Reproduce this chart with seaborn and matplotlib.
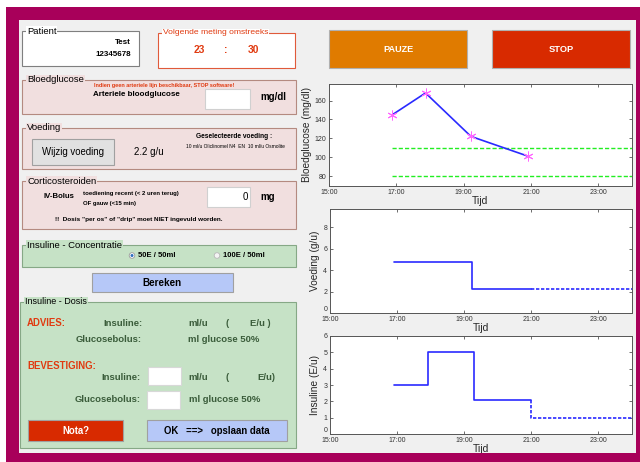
import matplotlib

matplotlib.use("Agg")

import matplotlib.pyplot as plt
import seaborn as sns
from matplotlib.patches import Circle, Rectangle

# measured values (times as hh:mm)
glucose_time = ["16:53", "17:52", "19:13", "20:55"]
glucose_value = [145, 168, 122, 101]
target_time = ["16:53", "24:00"]
target_low = 80
target_high = 110

feed_time = ["16:54", "19:14", "21:00"]
feed_rate = [4.75, 2.2, 2.2]
feed_plan_time = ["21:00", "24:00"]
feed_plan_rate = [2.2, 2.2]

insulin_time = ["16:54", "17:56", "19:17", "20:59"]
insulin_rate = [3.0, 5.0, 2.1, 2.1]
insulin_plan_time = ["20:59", "24:00"]
insulin_plan_rate = [2.1, 0.95]

hour_ticks = [15, 17, 19, 21, 23]
hour_labels = ["15:00", "17:00", "19:00", "21:00", "23:00"]


def hours(times):
    return [int(t[:2]) + int(t[3:]) / 60 for t in times]


sns.set_style("white")
plt.rcParams["font.family"] = ["Liberation Sans", "DejaVu Sans"]

MAGENTA = "#a8005a"
PANEL = "#f0f0f0"
PINK = "#f1dfdf"
PINK_EC = "#b48a80"
GREEN = "#c6e2c6"
GREEN_EC = "#86a886"
BLUE_BTN = "#b6c8f8"
RED_BTN = "#d82a00"
ORANGE_BTN = "#e07b00"
RED_TXT = "#e03a10"
GREEN_TXT = "#3a5c3a"
LINE = "#2a2aff"

fig = plt.figure(figsize=(6.4, 4.62), dpi=100)
fig.patch.set_facecolor("white")

ax_bg = fig.add_axes([0, 0, 1, 1], zorder=0)
ax_bg.set_xlim(0, 640)
ax_bg.set_ylim(462, 0)
ax_bg.axis("off")


def box(x0, y0, x1, y1, fc, ec="none", lw=0.8):
    ax_bg.add_patch(Rectangle((x0, y0), x1 - x0, y1 - y0, fc=fc, ec=ec, lw=lw))


def label(x, y, s, size=6, color="black", weight="bold", ha="left", bg=None):
    kw = {}
    if bg is not None:
        kw["bbox"] = dict(fc=bg, ec="none", pad=0.6)
    ax_bg.text(x, y, s, fontsize=size, color=color, fontweight=weight,
               ha=ha, va="center", **kw)


def panel(x0, y0, x1, y1, title, fc, ec, size=6.8):
    box(x0, y0, x1, y1, fc, ec)
    label(x0 + 5, y0, title, size=size, weight="normal", bg=fc)


# window frame
box(6, 7, 640, 462, MAGENTA)
box(19, 20, 636, 453, PANEL)

# left hand panels
panel(22, 31, 139, 66, "Patient", "white", "#7f7f7f")
label(131, 42, "Test", size=5.8, ha="right")
label(131, 55, "12345678", size=5.8, ha="right")

box(158, 33, 295, 68, "white", "#e05a3a")
label(163, 33, "Volgende meting omstreeks", size=6.1, color=RED_TXT,
      weight="normal", bg="white")
label(199, 50, "23", size=7.4, color=RED_TXT, ha="center")
label(226, 50, ":", size=7.4, color=RED_TXT, ha="center")
label(253, 50, "30", size=7.4, color=RED_TXT, ha="center")

panel(22, 80, 296, 114, "Bloedglucose", PINK, PINK_EC)
label(94, 85.5, "Indien geen arteriele lijn beschikbaar, STOP software!",
      size=4.0, color=RED_TXT)
label(93, 94, "Arteriele bloodglucose", size=5.8)
box(205, 89, 250, 109, "white", "#d0d0d0")
label(260, 97, "mg/dl", size=7)

panel(22, 128, 296, 169, "Voeding", PINK, PINK_EC)
box(32, 139, 114, 165, "#e1e1e1", "#a0a0a0")
label(73, 152, "Wijzig voeding", size=6.9, weight="normal", ha="center")
label(149, 152, "2.2 g/u", size=7, weight="normal", ha="center")
label(234, 136, "Geselecteerde voeding :", size=4.8, ha="center")
label(235, 147, "10 ml/u Oliclinomel N4  EN  10 ml/u Osmolite", size=3.5,
      weight="normal", ha="center")

panel(22, 181, 296, 229, "Corticosteroiden", PINK, PINK_EC)
label(44, 196, "IV-Bolus", size=5.6)
label(83, 194, "toediening recent (< 2 uren terug)", size=4.3)
label(83, 203, "OF gauw (<15 min)", size=4.3)
box(207, 187, 250, 207, "white", "#d0d0d0")
label(248, 197, "0", size=7, weight="normal", ha="right")
label(260, 197, "mg", size=7)
label(55, 219, '!!  Dosis "per os" of "drip" moet NIET ingevuld worden.',
      size=4.6)

panel(22, 245, 296, 267, "Insuline - Concentratie", GREEN, GREEN_EC)
ax_bg.add_patch(Circle((132, 255.5), 2.8, fc="white", ec="#9a9a9a", lw=0.6))
ax_bg.add_patch(Circle((132, 255.5), 1.5, fc="#3070c0", ec="none"))
label(138, 255.5, "50E / 50ml", size=5.5)
ax_bg.add_patch(Circle((217, 255.5), 2.8, fc="#f4f4f4", ec="#b8b8b8", lw=0.6))
label(223, 255.5, "100E / 50ml", size=5.5)

box(92, 273, 233, 292, BLUE_BTN, "#a0a0a0")
label(162, 282.5, "Bereken", size=7.1, ha="center")

panel(20, 302, 296, 448, "Insuline - Dosis", GREEN, GREEN_EC, size=6.5)
label(27, 323, "ADVIES:", size=6.9, color=RED_TXT)
label(142, 324, "Insuline:", size=6.8, color=GREEN_TXT, ha="right")
label(188, 324, "ml/u", size=6.8, color=GREEN_TXT)
label(226, 324, "(", size=6.8, color=GREEN_TXT)
label(250, 324, "E/u )", size=6.8, color=GREEN_TXT)
label(142, 339, "Glucosebolus:", size=6.8, color=GREEN_TXT, ha="right")
label(188, 339, "ml glucose 50%", size=6.8, color=GREEN_TXT)

label(27, 366, "BEVESTIGING:", size=6.9, color=RED_TXT)
label(141, 377, "Insuline:", size=6.8, color=GREEN_TXT, ha="right")
box(148, 367, 181, 385, "white", "#d8d8d8")
label(188, 377, "ml/u", size=6.8, color=GREEN_TXT)
label(226, 377, "(", size=6.8, color=GREEN_TXT)
label(257, 377, "E/u)", size=6.8, color=GREEN_TXT)
label(141, 400, "Glucosebolus:", size=6.8, color=GREEN_TXT, ha="right")
box(147, 391, 180, 409, "white", "#d8d8d8")
label(189, 400, "ml glucose 50%", size=6.8, color=GREEN_TXT)

box(28, 420, 123, 441, RED_BTN, "#a0a0a0")
label(75.5, 430.5, "Nota?", size=6.9, color="white", ha="center")
box(147, 420, 287, 441, BLUE_BTN, "#a0a0a0")
label(217, 430.5, "OK   ==>   opslaan data", size=6.9, ha="center")

# top right buttons
box(329, 30, 467, 68, ORANGE_BTN, "#b0b0b0")
label(398, 49, "PAUZE", size=6.6, color="white", ha="center")
box(492, 30, 630, 68, RED_BTN, "#b0b0b0")
label(561, 49, "STOP", size=6.7, color="white", ha="center")


def style_axis(ax, ylabel, ylim, yticks):
    ax.set_facecolor("white")
    ax.set_xlim(15, 24)
    ax.set_ylim(*ylim)
    ax.set_xticks(hour_ticks)
    ax.set_xticklabels(hour_labels)
    ax.set_yticks(yticks)
    ax.tick_params(direction="in", length=2.5, width=0.5, labelsize=5,
                   labelcolor="#333333", color="#333333", pad=2,
                   top=True, right=True, bottom=True, left=True)
    for s in ax.spines.values():
        s.set_color("#555555")
        s.set_linewidth(0.7)
    ax.set_xlabel("Tijd", fontsize=7.5, labelpad=0)
    ax.set_ylabel(ylabel, fontsize=7.3, labelpad=2)
    # the zero label sits just above the corner, clear of the time labels
    if yticks[0] == 0:
        ax.get_yticklabels()[0].set_verticalalignment("bottom")


ax1 = fig.add_axes([329 / 640, 1 - 186 / 462, 303 / 640, 102 / 462], zorder=2)
ax2 = fig.add_axes([330 / 640, 1 - 313 / 462, 302 / 640, 104 / 462], zorder=2)
ax3 = fig.add_axes([330 / 640, 1 - 434 / 462, 302 / 640, 98 / 462], zorder=2)

# glucose
for level in [target_high, target_low]:
    sns.lineplot(x=hours(target_time), y=[level, level], ax=ax1,
                 color="#22ee22", lw=1.0, linestyle=(0, (3, 1.5)))
sns.lineplot(x=hours(glucose_time), y=glucose_value, ax=ax1, color=LINE,
             lw=1.2, marker=(6, 2, 0), markersize=7,
             markeredgecolor="#ff66ff", markerfacecolor="#ff66ff",
             markeredgewidth=0.7)
style_axis(ax1, "Bloedglucose (mg/dl)", (69.5, 177.5), [80, 100, 120, 140, 160])

# feeding
sns.lineplot(x=hours(feed_time), y=feed_rate, ax=ax2, color=LINE, lw=1.2,
             drawstyle="steps-post")
sns.lineplot(x=hours(feed_plan_time), y=feed_plan_rate, ax=ax2, color=LINE,
             lw=1.2, linestyle=(0, (2, 1)))
style_axis(ax2, "Voeding (g/u)", (0, 9.7), [0, 2, 4, 6, 8])

# insulin
sns.lineplot(x=hours(insulin_time), y=insulin_rate, ax=ax3, color=LINE,
             lw=1.2, drawstyle="steps-post")
sns.lineplot(x=hours(insulin_plan_time), y=insulin_plan_rate, ax=ax3,
             color=LINE, lw=1.2, linestyle=(0, (2, 1)), drawstyle="steps-pre")
style_axis(ax3, "Insuline (E/u)", (0, 6), [0, 1, 2, 3, 4, 5, 6])

# bottom of the window frame covers the last axis label
fig.add_artist(Rectangle((6 / 640, 0), 634 / 640, 9 / 462, fc=MAGENTA,
                         ec="none", transform=fig.transFigure, zorder=10))

fig.savefig("out.png", dpi=100)
